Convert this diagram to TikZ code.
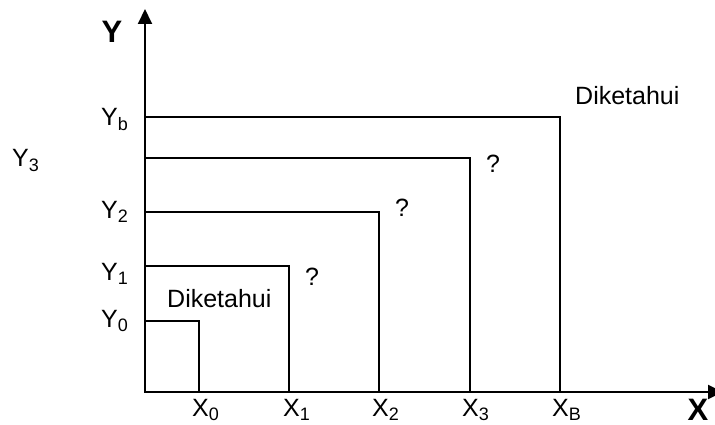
\documentclass[tikz,border=0pt]{standalone}
\usepackage{fontspec}
\setmainfont{Liberation Sans}
\usetikzlibrary{arrows.meta}
\newcommand{\lsub}[1]{\raisebox{-4.5pt}{\fontsize{18}{18}\selectfont #1}}
\begin{document}
\begin{tikzpicture}[x=1pt,y=-1pt,
  lbl/.style={font=\fontsize{25}{25}\selectfont, inner sep=0pt},
  axlbl/.style={font=\fontsize{31}{31}\selectfont\bfseries, inner sep=0pt},
  ln/.style={line width=2pt},
  axis/.style={line width=2pt, {Triangle[length=15pt,width=14pt]}-{Triangle[length=15pt,width=14pt]}}]
\clip (0,0) rectangle (715,425);
% axes
\coordinate (O) at (145,392);
\coordinate (ytip) at (145,9);
\coordinate (xtip) at (723,392);
\draw[axis] (ytip) -- (O) -- (xtip);
% corners of the boxes
\coordinate (y0) at (145,321); \coordinate (x0) at (199,392);
\coordinate (y1) at (145,266); \coordinate (x1) at (289,392);
\coordinate (y2) at (145,212); \coordinate (x2) at (379,392);
\coordinate (y3) at (145,158); \coordinate (x3) at (470,392);
\coordinate (yb) at (145,117); \coordinate (xb) at (560,392);
\draw[ln] (y0) -| (x0);
\draw[ln] (y1) -| (x1);
\draw[ln] (y2) -| (x2);
\draw[ln] (y3) -| (x3);
\draw[ln] (yb) -| (xb);
% axis labels
\node[axlbl] (Ylab) at (112,31.5) {Y};
\node[axlbl] (Xlab) at (698,409.5) {X};
% Y labels
\node[lbl, anchor=base west] (lY3) at (12,167) {Y\lsub{3}};
\node[lbl, anchor=base west] (lYb) at (101,126) {Y\lsub{b}};
\node[lbl, anchor=base west] (lY2) at (101,218) {Y\lsub{2}};
\node[lbl, anchor=base west] (lY1) at (101,280) {Y\lsub{1}};
\node[lbl, anchor=base west] (lY0) at (101,327) {Y\lsub{0}};
% X labels
\node[lbl, anchor=base west] (lX0) at (192,416) {X\lsub{0}};
\node[lbl, anchor=base west] (lX1) at (283,416) {X\lsub{1}};
\node[lbl, anchor=base west] (lX2) at (372,416) {X\lsub{2}};
\node[lbl, anchor=base west] (lX3) at (462,416) {X\lsub{3}};
\node[lbl, anchor=base west] (lXB) at (552,416) {X\lsub{B}};
% question marks
\node[lbl, anchor=base] (q1) at (312,285) {?};
\node[lbl, anchor=base] (q2) at (402,216) {?};
\node[lbl, anchor=base] (q3) at (493,172) {?};
% known
\node[lbl, anchor=base west] (d0) at (167,307) {Diketahui};
\node[lbl, anchor=base west] (db) at (575,105) {Diketahui};
\end{tikzpicture}
\end{document}
